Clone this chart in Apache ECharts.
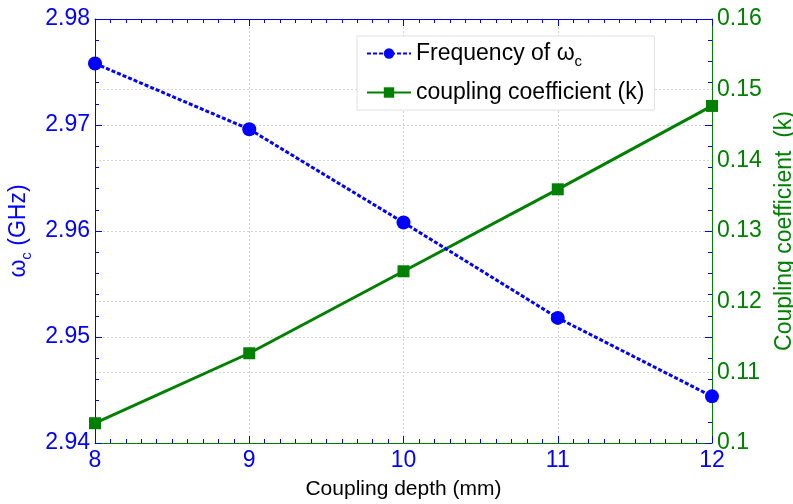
<!DOCTYPE html>
<html>
<head>
<meta charset="utf-8">
<script src="https://cdn.jsdelivr.net/npm/echarts@6/dist/echarts.min.js"></script>
<style>html,body{margin:0;padding:0;background:#fff}#c{width:793px;height:504px}</style>
</head>
<body>
<div id="c"></div>
<script>
var depth = [8, 9, 10, 11, 12];
var freqGHz = [2.9758, 2.9696, 2.9608, 2.9518, 2.9444];
var couplingK = [0.1028, 0.1127, 0.1243, 0.1359, 0.1477];
var xTitle = 'Coupling depth (mm)';
var leftTitle = '{w|ω}{sub|c}{w| (GHz)}';
var rightTitle = 'Coupling coefficient  (k)';
var legendNames = ['Frequency of ωc', 'coupling coefficient (k)'];

var BLUE = '#0000ff', GREEN = '#008000';
var FONT = 'Liberation Sans, Arial, sans-serif';

function pairs(xs, ys) { return xs.map(function (x, i) { return [x, ys[i]]; }); }

var chart = echarts.init(document.getElementById('c'));
chart.setOption({
  animation: false,
  backgroundColor: '#fff',
  textStyle: { fontFamily: FONT },
  grid: { left: 95, right: 81, top: 19, bottom: 61, containLabel: false, outerBoundsMode: 'none' },
  legend: {
    orient: 'vertical', left: 357, top: 36,
    backgroundColor: '#fff', borderColor: '#e0e0e0', borderWidth: 1,
    padding: [6, 10, 6, 9], itemGap: 12, itemWidth: 44, itemHeight: 13,
    data: legendNames,
    formatter: function (n) {
      if (n === legendNames[0]) return '{t|Frequency of }{w|ω}{sub|c}';
      return '{t|' + n + '}';
    },
    textStyle: {
      color: '#000', fontSize: 23, fontFamily: FONT,
      rich: {
        t: { fontSize: 23, color: '#000', fontFamily: FONT },
        w: { fontSize: 23, color: '#000', fontFamily: FONT },
        sub: { fontSize: 15, color: '#000', fontFamily: FONT, padding: [16, 0, 0, 0] }
      }
    }
  },
  xAxis: [{
    type: 'value', min: 8, max: 12, interval: 1, position: 'bottom',
    name: xTitle, nameLocation: 'middle', nameGap: 36,
    nameTextStyle: { color: '#000', fontSize: 21, fontFamily: FONT },
    axisLine: { lineStyle: { color: GREEN, width: 1 } },
    axisTick: { inside: true, length: 7, lineStyle: { color: BLUE } },
    minorTick: { show: true, splitNumber: 10, length: 4, lineStyle: { color: BLUE } },
    axisLabel: { color: BLUE, fontSize: 23, margin: 6, fontFamily: FONT },
    splitLine: { show: true, lineStyle: { color: '#d4d4d4', type: [2, 2], width: 1 } }
  }, {
    type: 'value', min: 8, max: 12, interval: 1, position: 'top',
    axisLine: { lineStyle: { color: BLUE, width: 1 } },
    axisTick: { inside: true, length: 7, lineStyle: { color: BLUE } },
    minorTick: { show: true, splitNumber: 10, length: 4, lineStyle: { color: BLUE } },
    axisLabel: { show: false }, splitLine: { show: false }
  }],
  yAxis: [{
    type: 'value', min: 2.94, max: 2.98, interval: 0.01, position: 'left',
    name: leftTitle, nameLocation: 'middle', nameGap: 55,
    nameTextStyle: {
      color: BLUE, fontFamily: FONT,
      rich: {
        w: { fontSize: 23, color: BLUE, fontFamily: FONT },
        sub: { fontSize: 15, color: BLUE, fontFamily: FONT, padding: [16, 0, 0, 0] }
      }
    },
    axisLine: { lineStyle: { color: BLUE, width: 1 } },
    axisTick: { inside: true, length: 7, lineStyle: { color: BLUE } },
    minorTick: { show: true, splitNumber: 5, length: 4, lineStyle: { color: BLUE } },
    axisLabel: { color: BLUE, fontSize: 23, margin: 5, fontFamily: FONT,
      formatter: function (v) { return v.toFixed(2); } },
    splitLine: { show: true, lineStyle: { color: '#d4d4d4', type: [2, 2], width: 1 } }
  }, {
    type: 'value', min: 0.1, max: 0.16, interval: 0.01, position: 'right',
    name: rightTitle, nameLocation: 'middle', nameGap: 53, nameRotate: 90,
    nameTextStyle: { color: GREEN, fontSize: 23, fontFamily: FONT },
    axisLine: { lineStyle: { color: GREEN, width: 1 } },
    axisTick: { show: false },
    axisLabel: { color: GREEN, fontSize: 23, margin: 5, fontFamily: FONT,
      formatter: function (v) { return String(+v.toFixed(2)); } },
    splitLine: { show: true, lineStyle: { color: '#d4d4d4', type: [2, 2], width: 1 } }
  }, {
    type: 'value', min: 2.94, max: 2.98, interval: 0.01, position: 'right',
    axisLine: { show: false },
    axisTick: { inside: true, length: 7, lineStyle: { color: BLUE } },
    minorTick: { show: true, splitNumber: 5, length: 4, lineStyle: { color: BLUE } },
    axisLabel: { show: false }, splitLine: { show: false }
  }],
  series: [{
    name: legendNames[0], type: 'line', yAxisIndex: 0,
    data: pairs(depth, freqGHz),
    symbol: 'circle', symbolSize: 14,
    itemStyle: { color: BLUE },
    lineStyle: { color: BLUE, width: 3, type: [4, 2] },
    z: 3
  }, {
    name: legendNames[1], type: 'line', yAxisIndex: 1,
    data: pairs(depth, couplingK),
    symbol: 'rect', symbolSize: 12,
    itemStyle: { color: GREEN },
    lineStyle: { color: GREEN, width: 3 },
    z: 2
  }]
});
</script>
</body>
</html>
